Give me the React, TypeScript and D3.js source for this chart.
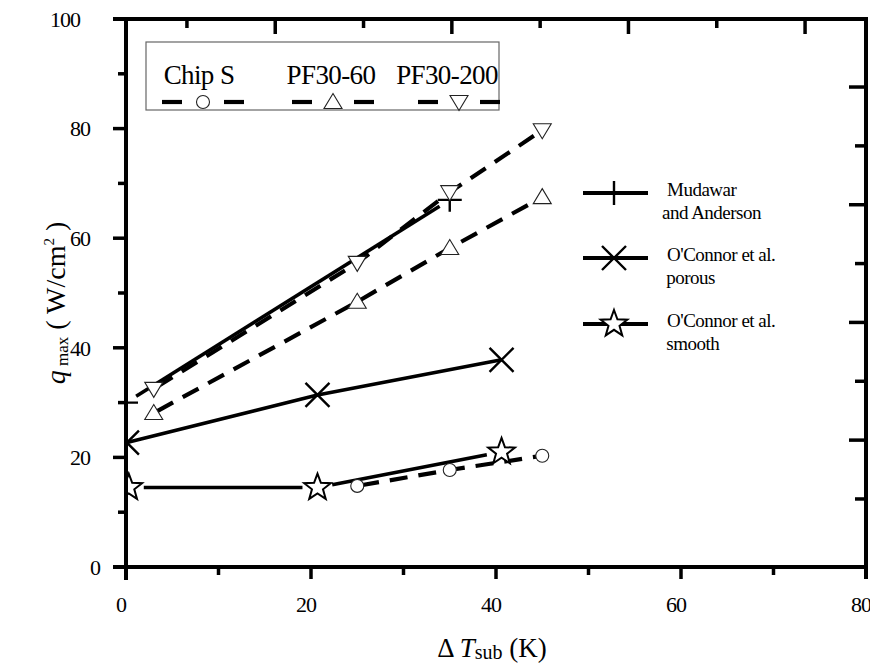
import React from "react";
import * as d3 from "d3";

// ---- data ----
const xMajorTicks = [0, 20, 40, 60, 80];
const xMinorTicks = [10, 30, 50, 70];
const yMajorTicks = [0, 20, 40, 60, 80, 100];
const yMinorTicks = [10, 30, 50, 70, 90];
const topTicks = [0, 1, 2, 3, 4, 5, 6, 7];
const rightTicks = [0, 1, 2, 3, 4, 5, 6, 7];

const chipSX = [25, 35, 45];
const chipSY = [14.8, 17.7, 20.3];
const pf60X = [3, 25, 35, 45];
const pf60Y = [28.1, 48.4, 58.2, 67.5];
const pf200X = [3, 25, 35, 45];
const pf200Y = [32.5, 55.5, 68.4, 79.7];
const mudX = [0, 35];
const mudY = [30, 67];
const porousX = [0.1, 20.7, 40.6];
const porousY = [22.7, 31.4, 37.8];
const smoothX = [0.3, 20.7, 40.6];
const smoothY = [14.5, 14.5, 21.0];

const topLegend = ["Chip S", "PF30-60", "PF30-200"];
const rightLegend = [
  ["Mudawar", "and Anderson"],
  ["O'Connor et al.", " porous"],
  ["O'Connor et al.", " smooth"],
];

const FONT = "Liberation Serif, DejaVu Serif, serif";

const W = 870, H = 666;
const L = 126, R = 866, T = 19, B = 567;

const x = d3.scaleLinear().domain([0, 80]).range([L, R]);
const y = d3.scaleLinear().domain([0, 100]).range([B, T]);
const xTop = d3.scaleLinear().domain([-0.69, 7.69]).range([L, R]);
const yRight = d3.scaleLinear().domain([-1.156, 8.156]).range([B, T]);

const zip = (xs: number[], ys: number[]) => xs.map((v, i) => [v, ys[i]] as [number, number]);

function Marker({ kind, cx, cy }: { kind: string; cx: number; cy: number }) {
  const t = `translate(${cx},${cy})`;
  if (kind === "circle")
    return <circle cx={cx} cy={cy} r={6.5} fill="#fff" stroke="#222" strokeWidth={1.1} />;
  if (kind === "tri")
    return <path transform={t} d="M0,-8.5L9,6.5L-9,6.5Z" fill="#fff" stroke="#222" strokeWidth={1.1} />;
  if (kind === "itri")
    return <path transform={t} d="M0,8.5L9,-6.5L-9,-6.5Z" fill="#fff" stroke="#222" strokeWidth={1.1} />;
  if (kind === "plus")
    return <path transform={t} d="M-12,0H12M0,-12V12" stroke="#000" strokeWidth={2.4} fill="none" />;
  if (kind === "x")
    return <path transform={t} d="M-12,-12L12,12M-12,12L12,-12" stroke="#000" strokeWidth={2.4} fill="none" />;
  if (kind === "star") {
    const pts: string[] = [];
    for (let i = 0; i < 10; i++) {
      const r = i % 2 === 0 ? 14 : 5.8;
      const a = -Math.PI / 2 + (i * Math.PI) / 5;
      pts.push(`${(r * Math.cos(a)).toFixed(2)},${(r * Math.sin(a)).toFixed(2)}`);
    }
    return <polygon transform={t} points={pts.join(" ")} fill="#fff" stroke="#000" strokeWidth={2} strokeLinejoin="miter" />;
  }
  return null;
}

function gappedSegments(pts: [number, number][], gap: number) {
  const segs: string[] = [];
  for (let i = 0; i < pts.length - 1; i++) {
    const [x1, y1] = [x(pts[i][0]), y(pts[i][1])];
    const [x2, y2] = [x(pts[i + 1][0]), y(pts[i + 1][1])];
    const len = Math.hypot(x2 - x1, y2 - y1);
    const ux = (x2 - x1) / len, uy = (y2 - y1) / len;
    segs.push(`M${x1 + ux * gap},${y1 + uy * gap}L${x2 - ux * gap},${y2 - uy * gap}`);
  }
  return segs.join("");
}

export default function App() {
  const line = d3.line<[number, number]>().x((d) => x(d[0])).y((d) => y(d[1]));

  const dashed = [
    { pts: zip(chipSX, chipSY), m: "circle" },
    { pts: zip(pf60X, pf60Y), m: "tri" },
    { pts: zip(pf200X, pf200Y), m: "itri" },
  ];
  const solid = [
    { pts: zip(mudX, mudY), m: "plus", gap: 12 },
    { pts: zip(porousX, porousY), m: "x", gap: 0 },
    { pts: zip(smoothX, smoothY), m: "star", gap: 15 },
  ];

  const dashArr = "18 11";

  const topLegendTextX = [199, 331, 447];
  const topLegendMarkX = [203, 333, 459];
  const rightLegendY = [193, 258, 324];

  return (
    <svg width={W} height={H} style={{ position: "absolute", left: 0, top: 0, background: "#fff", fontFamily: FONT }}>
      <defs>
        <clipPath id="plotClip">
          <rect x={L} y={T} width={R - L} height={B - T} />
        </clipPath>
      </defs>
      <rect width={W} height={H} fill="#fff" />

      <g clipPath="url(#plotClip)">
        {solid.map((s, i) => (
          <path key={"s" + i} d={gappedSegments(s.pts, s.gap)} fill="none" stroke="#000" strokeWidth={3.6} />
        ))}
        {dashed.map((s, i) => (
          <path key={"d" + i} d={line(s.pts) || ""} fill="none" stroke="#000" strokeWidth={4.2} strokeDasharray={dashArr} strokeDashoffset={-4} />
        ))}
        {solid.map((s, i) =>
          s.pts.map((p, j) => <Marker key={`sm${i}-${j}`} kind={s.m} cx={x(p[0])} cy={y(p[1])} />)
        )}
        {dashed.map((s, i) =>
          s.pts.map((p, j) => <Marker key={`dm${i}-${j}`} kind={s.m} cx={x(p[0])} cy={y(p[1])} />)
        )}
      </g>

      <g stroke="#000" strokeWidth={4} fill="none">
        <line x1={L - 13} y1={T} x2={R + 2} y2={T} />
        <line x1={L} y1={T} x2={L} y2={B + 13} />
        <line x1={L - 13} y1={B} x2={R} y2={B} />
        <line x1={R} y1={T - 2} x2={R} y2={B + 12} />
      </g>

      <g stroke="#000" strokeWidth={3.5}>
        {yMajorTicks.map((v) => (
          <line key={"ym" + v} x1={L - 13} x2={L} y1={y(v)} y2={y(v)} />
        ))}
        {yMinorTicks.map((v) => (
          <line key={"yn" + v} x1={L - 8} x2={L} y1={y(v)} y2={y(v)} />
        ))}
        {xMajorTicks.map((v) => (
          <line key={"xm" + v} x1={x(v)} x2={x(v)} y1={B} y2={B + 12} />
        ))}
        {xMinorTicks.map((v) => (
          <line key={"xn" + v} x1={x(v)} x2={x(v)} y1={B} y2={B + 8} />
        ))}
        {topTicks.map((v) => (
          <line key={"tt" + v} x1={xTop(v)} x2={xTop(v)} y1={T} y2={T + (v % 2 ? 15 : 9)} />
        ))}
        {rightTicks.map((v) => (
          <line key={"rt" + v} x1={R - (v % 2 ? 17 : 11)} x2={R} y1={yRight(v)} y2={yRight(v)} />
        ))}
      </g>

      <g fontSize={22} fill="#000" style={{ fontFamily: FONT }}>
        {yMajorTicks.map((v) => {
          const s = String(v);
          return (
            <text key={"yl" + v} x={110 - 15 * s.length} y={y(v)} dy="0.35em" textAnchor="middle" letterSpacing={-1}>
              {s}
            </text>
          );
        })}
        {xMajorTicks.map((v) => (
          <text key={"xl" + v} x={x(v) - 5} y={612} textAnchor="middle" letterSpacing={-1}>
            {v}
          </text>
        ))}
      </g>

      <text x={492} y={657} textAnchor="middle" fontSize={27} fill="#000" style={{ fontFamily: FONT }}>
        <tspan>Δ </tspan>
        <tspan fontStyle="italic">T</tspan>
        <tspan fontSize={20} dy={2}>sub</tspan>
        <tspan dy={-2}>{"  (K)"}</tspan>
      </text>
      <text transform="translate(65,303) rotate(-90)" textAnchor="middle" fontSize={28} fill="#000" style={{ fontFamily: FONT }}>
        <tspan fontStyle="italic">q</tspan>
        <tspan fontSize={17} dy={3}> max</tspan>
        <tspan dy={-3}>{"  ( W/cm"}</tspan>
        <tspan fontSize={15} dy={-11}>2</tspan>
        <tspan dy={11}>{" )"}</tspan>
      </text>

      <rect x={146} y={42} width={353} height={68} fill="#fff" stroke="#666" strokeWidth={1.2} />
      {topLegend.map((t, i) => (
        <text key={"tl" + i} x={topLegendTextX[i]} y={84} textAnchor="middle" fontSize={27} letterSpacing={-0.6} fill="#000" style={{ fontFamily: FONT }}>
          {t}
        </text>
      ))}
      {dashed.map((s, i) => (
        <g key={"tls" + i}>
          <line x1={topLegendMarkX[i] - 41} x2={topLegendMarkX[i] - 21} y1={102} y2={102} stroke="#000" strokeWidth={4.2} />
          <line x1={topLegendMarkX[i] + 21} x2={topLegendMarkX[i] + 41} y1={102} y2={102} stroke="#000" strokeWidth={4.2} />
          <Marker kind={s.m} cx={topLegendMarkX[i]} cy={102} />
        </g>
      ))}

      {solid.map((s, i) => (
        <g key={"rl" + i}>
          <line x1={583} x2={648} y1={rightLegendY[i]} y2={rightLegendY[i]} stroke="#000" strokeWidth={4} />
          <Marker kind={s.m} cx={614} cy={rightLegendY[i]} />
          <text x={667} y={rightLegendY[i] + 3} fontSize={19} letterSpacing={-0.5} fill="#000" style={{ fontFamily: FONT }}>
            {rightLegend[i][0]}
          </text>
          <text x={662} y={rightLegendY[i] + 26} fontSize={19} letterSpacing={-0.5} fill="#000" style={{ fontFamily: FONT, whiteSpace: "pre" }}>
            {rightLegend[i][1]}
          </text>
        </g>
      ))}
    </svg>
  );
}
